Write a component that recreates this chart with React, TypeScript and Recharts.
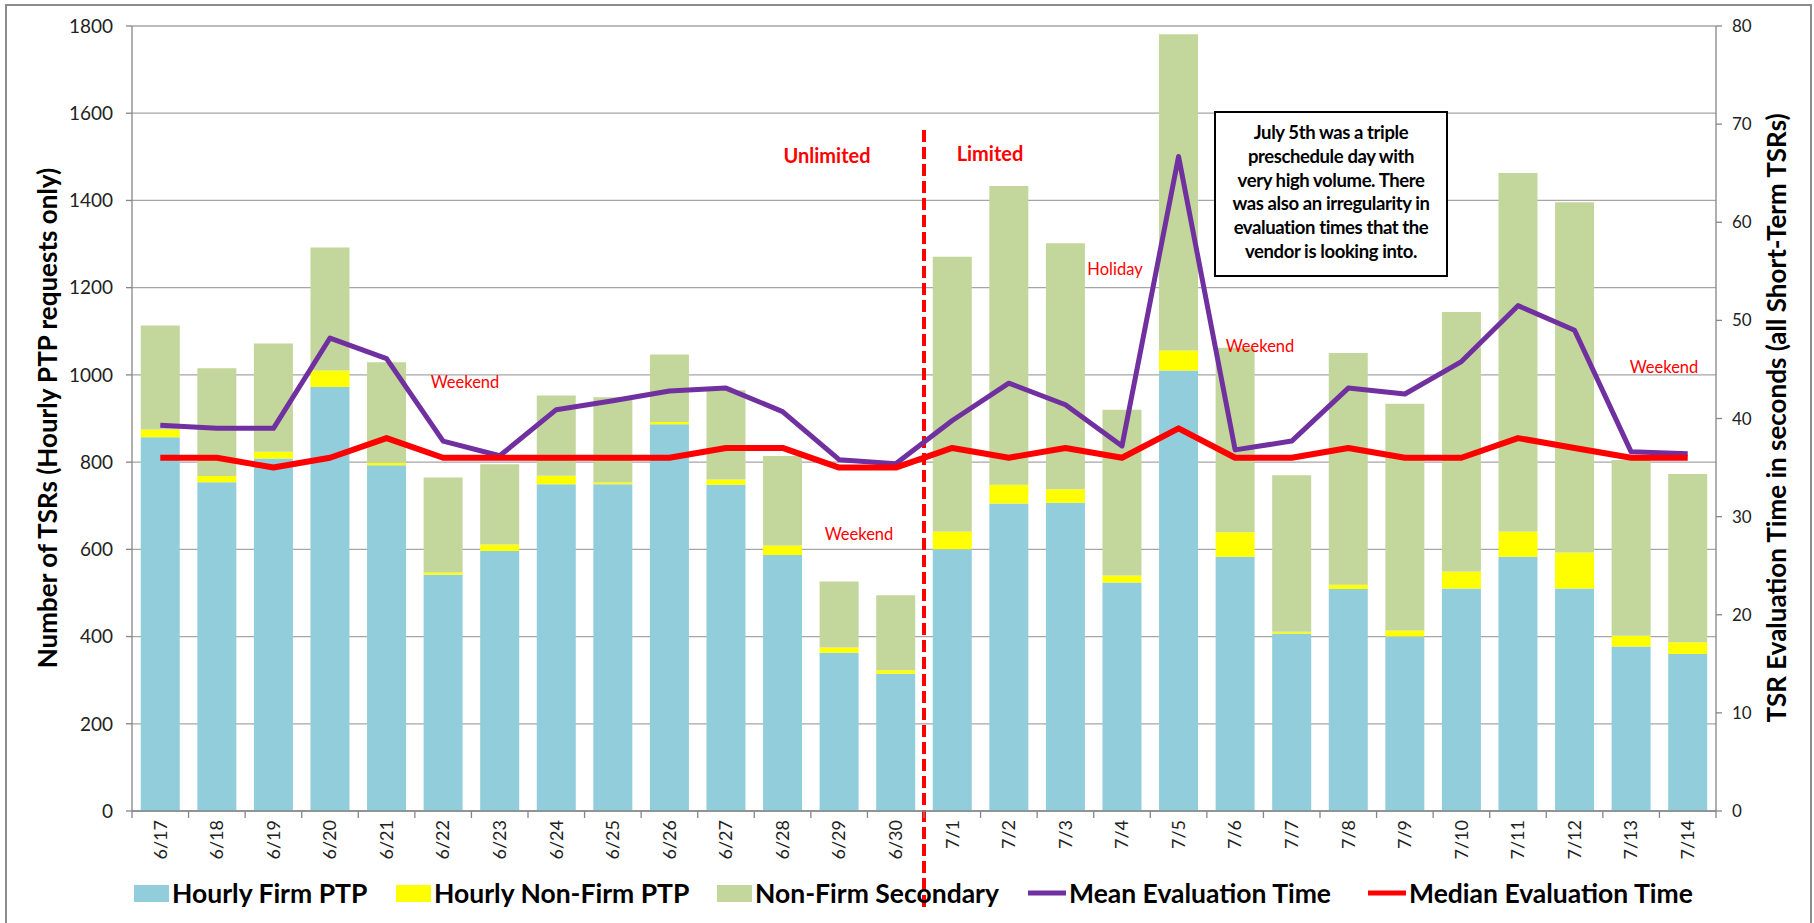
import React from 'react';
import { ComposedChart, Bar, Line, XAxis, YAxis, CartesianGrid, ReferenceLine } from 'recharts';

const dates = [
  '6/17', '6/18', '6/19', '6/20', '6/21', '6/22', '6/23', '6/24', '6/25', '6/26', '6/27', '6/28', '6/29', '6/30',
  '7/1', '7/2', '7/3', '7/4', '7/5', '7/6', '7/7', '7/8', '7/9', '7/10', '7/11', '7/12', '7/13', '7/14',
];
const firmPtp = [857, 754, 808, 972, 793, 542, 596, 749, 749, 887, 748, 587, 363, 315, 600, 705, 707, 524, 1010, 583, 407, 509, 400, 510, 583, 510, 377, 360];
const nonFirmPtp = [18, 14, 16, 38, 5, 5, 15, 20, 4, 5, 12, 22, 12, 8, 41, 43, 31, 16, 46, 56, 4, 10, 14, 39, 58, 83, 25, 27];
const nonFirmSecondary = [238, 247, 248, 282, 231, 218, 184, 184, 196, 155, 205, 205, 151, 172, 630, 685, 564, 380, 725, 423, 359, 531, 520, 595, 822, 803, 403, 386];
const meanTime = [39.3, 39.0, 39.0, 48.2, 46.1, 37.7, 36.2, 40.9, 41.8, 42.8, 43.1, 40.7, 35.8, 35.4, 39.8, 43.6, 41.4, 37.2, 66.7, 36.8, 37.7, 43.1, 42.5, 45.8, 51.5, 49.0, 36.6, 36.4];
const medianTime = [36, 36, 35, 36, 38, 36, 36, 36, 36, 36, 37, 37, 35, 35, 37, 36, 37, 36, 39, 36, 36, 37, 36, 36, 38, 37, 36, 36];
const countTicks = [0, 200, 400, 600, 800, 1000, 1200, 1400, 1600, 1800];
const timeTicks = [0, 10, 20, 30, 40, 50, 60, 70, 80];

const noteLines = [
  'July 5th was a triple',
  'preschedule day with',
  'very high volume. There',
  'was also an irregularity in',
  'evaluation times that the',
  'vendor is looking into.',
];

const data = dates.map((d, i) => ({
  date: d,
  firm: firmPtp[i],
  nonFirm: nonFirmPtp[i],
  secondary: nonFirmSecondary[i],
  mean: meanTime[i],
  median: medianTime[i],
}));

const FONT = 'Lato, "Open Sans", sans-serif';
const AXIS = '#868686';

// excel style ticks: marks between categories, labels turned on their side
const DateTick = (props: any) => {
  const { x, y, payload, index } = props;
  const half = payload && payload.offset ? payload.offset : 28.3;
  const top = y - 9;
  return (
    <g>
      <line x1={x - half} x2={x - half} y1={top} y2={top + 7} stroke={AXIS} strokeWidth={1.3} />
      {index === dates.length - 1 && (
        <line x1={x + half} x2={x + half} y1={top} y2={top + 7} stroke={AXIS} strokeWidth={1.3} />
      )}
      <text
        transform={`translate(${x},${y}) rotate(-90)`}
        textAnchor="end"
        dy="0.35em"
        fontSize={18}
        fill="#222"
        fontFamily={FONT}
      >
        {payload.value}
      </text>
    </g>
  );
};

const DashedDivider = (p: any) => (
  <line x1={p.x1} x2={p.x2} y1={130} y2={908} stroke="#FF0000" strokeWidth={4} strokeDasharray="12 5" />
);

const legendItems = [
  { name: 'Hourly Firm PTP', color: '#92CDDC', kind: 'box', x: 134 },
  { name: 'Hourly Non-Firm PTP', color: '#FFFF00', kind: 'box', x: 396 },
  { name: 'Non-Firm Secondary', color: '#C3D69B', kind: 'box', x: 717 },
  { name: 'Mean Evaluation Time', color: '#7030A0', kind: 'line', x: 1028 },
  { name: 'Median Evaluation Time', color: '#FF0000', kind: 'line', x: 1368 },
];

const notes = [
  { text: 'Weekend', x: 465, y: 382 },
  { text: 'Weekend', x: 859, y: 534 },
  { text: 'Weekend', x: 1260, y: 346 },
  { text: 'Weekend', x: 1664, y: 367 },
  { text: 'Holiday', x: 1115, y: 269 },
];

export default function App() {
  return (
    <div style={{ position: 'absolute', left: 0, top: 0, width: 1814, height: 923, background: '#fff', fontFamily: FONT }}>
      <ComposedChart
        width={1814}
        height={923}
        data={data}
        margin={{ top: 26, right: 0, bottom: 12, left: 0 }}
        barCategoryGap="15.5%"
      >
        <CartesianGrid vertical={false} stroke="#a6a6a6" strokeWidth={1.3} yAxisId="left" />
        <XAxis
          dataKey="date"
          height={100}
          interval={0}
          tickLine={false}
          tickSize={0}
          tickMargin={9}
          axisLine={{ stroke: AXIS, strokeWidth: 1.3 }}
          tick={<DateTick />}
        />
        <YAxis
          yAxisId="left"
          width={132}
          domain={[0, 1800]}
          ticks={countTicks}
          interval={0}
          tickSize={6}
          tickMargin={13}
          axisLine={{ stroke: AXIS, strokeWidth: 1.3 }}
          tickLine={{ stroke: AXIS, strokeWidth: 1.3 }}
          tick={{ fontSize: 19, fill: '#222', fontFamily: FONT }}
        />
        <YAxis
          yAxisId="right"
          orientation="right"
          width={98}
          domain={[0, 80]}
          ticks={timeTicks}
          interval={0}
          tickSize={6}
          tickMargin={10}
          axisLine={{ stroke: AXIS, strokeWidth: 1.3 }}
          tickLine={{ stroke: AXIS, strokeWidth: 1.3 }}
          tick={{ fontSize: 17, fill: '#222', fontFamily: FONT }}
        />
        <Bar yAxisId="left" dataKey="firm" stackId="a" fill="#92CDDC" isAnimationActive={false} />
        <Bar yAxisId="left" dataKey="nonFirm" stackId="a" fill="#FFFF00" isAnimationActive={false} />
        <Bar yAxisId="left" dataKey="secondary" stackId="a" fill="#C3D69B" isAnimationActive={false} />
        <ReferenceLine yAxisId="left" x="6/30" position="end" shape={<DashedDivider />} />
        <Line
          yAxisId="right"
          type="linear"
          dataKey="mean"
          stroke="#7030A0"
          strokeWidth={5}
          strokeLinejoin="round"
          dot={false}
          activeDot={false}
          isAnimationActive={false}
        />
        <Line
          yAxisId="right"
          type="linear"
          dataKey="median"
          stroke="#FF0000"
          strokeWidth={6}
          strokeLinejoin="round"
          dot={false}
          activeDot={false}
          isAnimationActive={false}
        />
      </ComposedChart>

      <svg
        width={1814}
        height={923}
        style={{ position: 'absolute', left: 0, top: 0, pointerEvents: 'none' }}
        fontFamily={FONT}
      >
        <rect x={6} y={5} width={1805} height={930} fill="none" stroke="#8c8c8c" strokeWidth={2} />

        <text transform="translate(47,418) rotate(-90)" textAnchor="middle" dominantBaseline="central" fontSize={26} fontWeight={700} fill="#000">
          Number of TSRs (Hourly PTP requests only)
        </text>
        <text transform="translate(1776,418) rotate(-90)" textAnchor="middle" dominantBaseline="central" fontSize={26} fontWeight={700} fill="#000">
          TSR Evaluation Time in seconds (all Short-Term TSRs)
        </text>

        <text x={827} y={155} textAnchor="middle" dominantBaseline="central" fontSize={20} fontWeight={700} fill="#FF0000">Unlimited</text>
        <text x={990} y={153} textAnchor="middle" dominantBaseline="central" fontSize={20} fontWeight={700} fill="#FF0000">Limited</text>
        {notes.map((n, i) => (
          <text key={i} x={n.x} y={n.y} textAnchor="middle" dominantBaseline="central" fontSize={16.5} fill="#FF0000">{n.text}</text>
        ))}

        <rect x={1215} y={112} width={232} height={164} fill="#fff" stroke="#000" strokeWidth={2} />
        {noteLines.map((t, i) => (
          <text key={i} x={1331} y={132 + i * 23.8} textAnchor="middle" dominantBaseline="central" fontSize={18.5} fontWeight={700} letterSpacing={-0.4} fill="#000">{t}</text>
        ))}

        {legendItems.map((it) => (
          <g key={it.name}>
            {it.kind === 'box' ? (
              <rect x={it.x} y={885} width={35} height={17} fill={it.color} />
            ) : (
              <line x1={it.x} x2={it.x + 38} y1={893} y2={893} stroke={it.color} strokeWidth={5} />
            )}
            <text x={it.x + (it.kind === 'box' ? 38 : 41)} y={893} dominantBaseline="central" fontSize={26.5} fontWeight={700} fill="#000">
              {it.name}
            </text>
          </g>
        ))}
      </svg>
    </div>
  );
}
